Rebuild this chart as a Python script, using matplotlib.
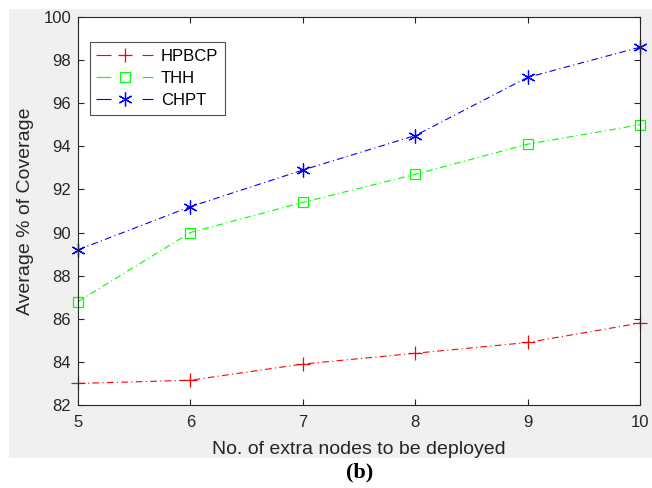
import matplotlib
matplotlib.use("Agg")
import matplotlib.pyplot as plt
from matplotlib.patches import Rectangle

plt.rcParams['font.family'] = ['Liberation Sans', 'DejaVu Sans']

# data
nodes = [5, 6, 7, 8, 9, 10]
hpbcp = [83.0, 83.15, 83.9, 84.4, 84.9, 85.8]
thh = [86.8, 90.0, 91.4, 92.7, 94.1, 95.0]
chpt = [89.2, 91.2, 92.9, 94.5, 97.2, 98.6]
yticks = [82, 84, 86, 88, 90, 92, 94, 96, 98, 100]

W, H = 652, 488
fig = plt.figure(figsize=(W / 100, H / 100), dpi=100, facecolor='white')

# matlab-like grey figure background
fig.patches.append(Rectangle((9 / W, (H - 458) / H), 1 - 9 / W, (458 - 9) / H,
                             transform=fig.transFigure, facecolor='#f0f0f0',
                             edgecolor='none', zorder=-5))

ax = fig.add_axes([78 / W, (H - 405) / H, (640 - 78) / W, (405 - 17) / H])
ax.set_facecolor('white')

ls = (0, (6, 3, 1, 3))
ax.plot(nodes, hpbcp, color='red', ls=ls, lw=0.8, marker='+', ms=10,
        mew=0.9, label='HPBCP', clip_on=False)
ax.plot(nodes, thh, color='#00ff00', ls=ls, lw=0.8, marker='s', ms=7,
        mfc='none', mew=0.9, label='THH', clip_on=False)
ax.plot(nodes, chpt, color='blue', ls=ls, lw=0.8, marker=(6, 2, 0), ms=10,
        mew=0.9, label='CHPT', clip_on=False)

ax.set_xlim(5, 10)
ax.set_ylim(82, 100)
ax.set_yticks(yticks)
ax.set_xticks(nodes)
ax.tick_params(direction='in', top=True, right=True, length=4, width=0.8,
               labelsize=12, colors='#262626')
ax.tick_params(axis='x', pad=7)
ax.tick_params(axis='y', pad=5)
for s in ax.spines.values():
    s.set_color('#262626')
    s.set_linewidth(0.8)

ax.set_xlabel('No. of extra nodes to be deployed', fontsize=14,
              color='#262626', labelpad=8)
ax.set_ylabel('Average % of Coverage', fontsize=14, color='#262626',
              labelpad=7)

leg = ax.legend(loc='upper left', bbox_to_anchor=(0.021, 0.935), fontsize=12,
                frameon=True, fancybox=False, handlelength=3.4,
                borderpad=0.4, labelspacing=0.42, handletextpad=0.45,
                borderaxespad=0)
leg.get_frame().set_edgecolor('#262626')
leg.get_frame().set_linewidth(0.8)
for h in leg.get_lines():
    h.set_linestyle((0, (13.5, 28)))

fig.text(360 / W, (H - 472) / H, '(b)', family=['Liberation Serif'],
         fontweight='bold', fontsize=16, ha='center', va='center')

fig.savefig('out.png', dpi=100, facecolor='white')
